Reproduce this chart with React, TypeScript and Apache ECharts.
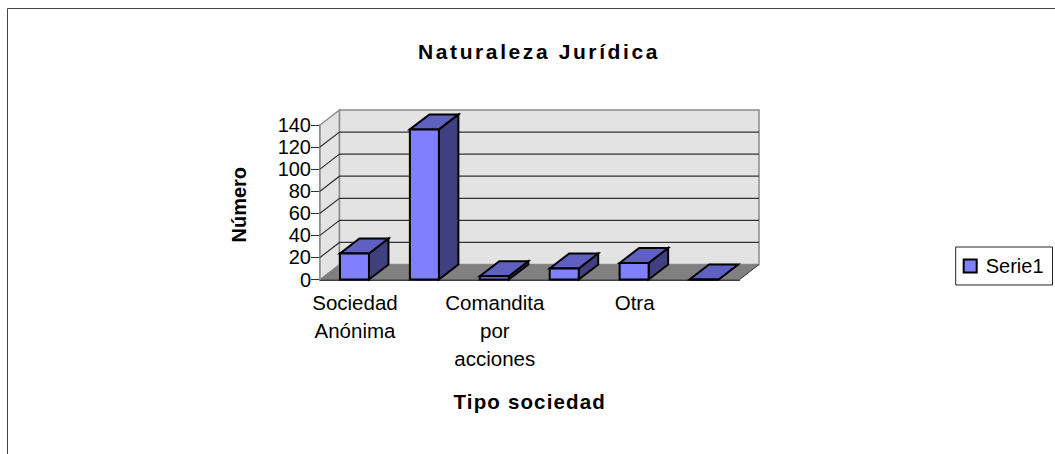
import React, { useEffect, useRef } from "react";
import * as echarts from "echarts";

const categories = ["Sociedad\nAnónima", "", "Comandita\npor\nacciones", "", "Otra", " "];
const values = [23.5, 136, 3, 10, 15, 0];
const yTicks = [0, 20, 40, 60, 80, 100, 120, 140];
const seriesName = "Serie1";
const titleText = "Naturaleza Jurídica";
const xName = "Tipo sociedad";
const yName = "Número";

const DX = 19.5;
const DY = -15;
const FONT = "'Liberation Sans', Arial, sans-serif";

function poly(points: number[][], fill: string, stroke?: string, lw = 1) {
  return {
    type: "polygon",
    shape: { points },
    style: { fill, stroke: stroke || "none", lineWidth: lw },
  };
}

export default function App() {
  const ref = useRef<HTMLDivElement>(null);
  useEffect(() => {
    const chart = echarts.init(ref.current!, undefined, { renderer: "svg" });
    chart.setOption({
      animation: false,
      backgroundColor: "#fff",
      title: {
        text: titleText,
        left: 534,
        top: 36,
        textAlign: "center",
        textStyle: { fontFamily: FONT, fontSize: 21, fontWeight: "bold", color: "#000" },
      },
      legend: {
        right: 2.5,
        top: 247,
        orient: "vertical",
        data: [{ name: seriesName, icon: "rect" }],
        itemWidth: 13,
        itemHeight: 13,
        itemGap: 0,
        padding: [9, 9, 9, 7],
        borderColor: "#222",
        borderWidth: 1,
        textStyle: { fontFamily: FONT, fontSize: 20, lineHeight: 20, color: "#000", padding: [0, 0, 0, 4] },
      },
      grid: { left: 320, top: 125, width: 419.5, height: 154.5 },
      xAxis: {
        type: "category",
        data: categories,
        name: xName,
        nameLocation: "center",
        nameGap: 111,
        nameTextStyle: { fontFamily: FONT, fontSize: 20.5, fontWeight: "bold", color: "#000" },
        axisLine: { lineStyle: { color: "#000", width: 1.5 } },
        axisTick: { alignWithLabel: false, length: 6, lineStyle: { color: "#000" } },
        axisLabel: {
          interval: 0,
          fontFamily: FONT,
          fontSize: 20.5,
          color: "#000",
          lineHeight: 28,
          margin: 9,
          verticalAlign: "top",
        },
      },
      yAxis: {
        type: "value",
        min: 0,
        max: 140,
        interval: 20,
        name: yName,
        nameLocation: "center",
        nameRotate: 90,
        nameGap: 71,
        nameTextStyle: { fontFamily: FONT, fontSize: 20, fontWeight: "bold", color: "#000", padding: [0, 5, 0, 0] },
        axisLine: { show: true, lineStyle: { color: "#777", width: 1.5 } },
        axisTick: { show: true, length: 9, lineStyle: { color: "#333" } },
        axisLabel: { fontFamily: FONT, fontSize: 20, color: "#000", margin: 9 },
        splitLine: { show: false },
      },
      graphic: [
        {
          type: "rect",
          silent: true,
          shape: { x: 7.5, y: 8.5, width: 1200, height: 600 },
          style: { fill: "none", stroke: "#444", lineWidth: 1 },
          z: 100,
        },
      ],
      series: [
        {
          type: "custom",
          name: "walls",
          silent: true,
          z: 1,
          clip: false,
          coordinateSystem: "cartesian2d",
          data: [[0]],
          renderItem: (_p: any, api: any) => {
            const [xl, yb] = [320, api.coord([0, 0])[1]];
            const yt = api.coord([0, yTicks[yTicks.length - 1]])[1];
            const xr = 739.5;
            const wall = "#E3E3E3";
            const edge = "#8C8C8C";
            return {
              type: "group",
              children: [
                poly([[xl, yb], [xl, yt], [xl + DX, yt + DY], [xl + DX, yb + DY]], wall, edge, 1.5),
                poly([[xl + DX, yb + DY], [xl + DX, yt + DY], [xr + DX, yt + DY], [xr + DX, yb + DY]], wall, edge, 1.5),
                poly([[xl, yb], [xl + DX, yb + DY], [xr + DX, yb + DY], [xr, yb]], "#808080"),
                {
                  type: "polyline",
                  shape: { points: [[xr, yb], [xr + DX, yb + DY]] },
                  style: { fill: "none", stroke: "#333", lineWidth: 1 },
                },
              ],
            };
          },
        },
        {
          type: "custom",
          name: "gridlines",
          silent: true,
          z: 2,
          clip: false,
          coordinateSystem: "cartesian2d",
          data: yTicks.slice(1, -1).map((t) => [0, t]),
          renderItem: (_p: any, api: any) => {
            const y = api.coord([0, api.value(1)])[1];
            const pts = [[320, y], [320 + DX, y + DY], [739.5 + DX, y + DY]];
            return {
              type: "polyline",
              shape: { points: pts },
              style: { fill: "none", stroke: "#333", lineWidth: 1.2 },
            };
          },
        },
        {
          type: "custom",
          name: seriesName,
          z: 3,
          clip: false,
          coordinateSystem: "cartesian2d",
          itemStyle: { color: "#8080FF", borderColor: "#000", borderWidth: 1 },
          encode: { x: 0, y: 1 },
          data: values.map((v, i) => [i, v]),
          renderItem: (_p: any, api: any) => {
            const idx = api.value(0);
            const base = api.coord([idx, 0]);
            const top = api.coord([idx, api.value(1)]);
            const w = 29;
            const l = base[0] - w / 2 - 0.5;
            const r = l + w;
            const yb = base[1];
            const yt = top[1];
            return {
              type: "group",
              children: [
                poly([[r, yb], [r + DX, yb + DY], [r + DX, yt + DY], [r, yt]], "#404080", "#000", 2),
                poly([[l, yt], [l + DX, yt + DY], [r + DX, yt + DY], [r, yt]], "#6060C0", "#000", 2),
                poly([[l, yb], [l, yt], [r, yt], [r, yb]], "#8080FF", "#000", 2),
              ],
            };
          },
        },
      ],
    });
    const spacing: Record<string, string> = { [titleText]: "2.6px", [xName]: "1.15px" };
    ref.current!.querySelectorAll("text").forEach((t) => {
      const s = spacing[(t.textContent || "").trim()];
      if (s) (t as SVGTextElement).style.letterSpacing = s;
    });
    return () => chart.dispose();
  }, []);
  return <div ref={ref} style={{ position: "fixed", left: 0, top: 0, width: 1055, height: 454 }} />;
}
